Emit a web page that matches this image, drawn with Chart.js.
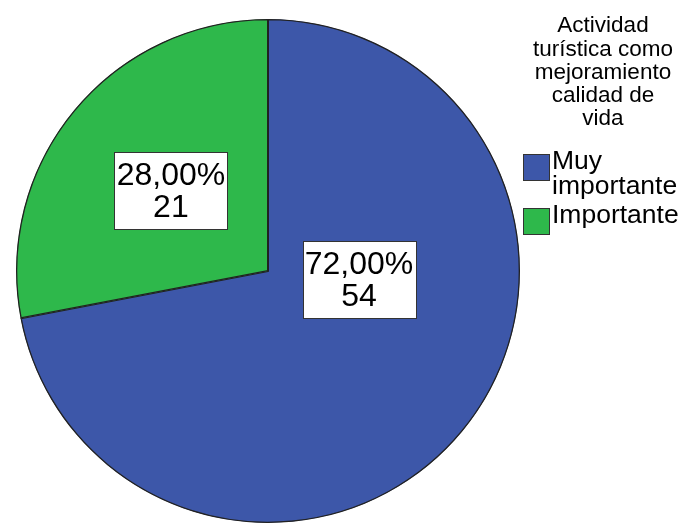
<!DOCTYPE html>
<html>
<head>
<meta charset="utf-8">
<script src="https://cdn.jsdelivr.net/npm/chart.js@4"></script>
<style>
html,body{margin:0;padding:0;background:#fff;}
#wrap{position:relative;width:680px;height:524px;}
</style>
</head>
<body>
<div id="wrap"><canvas id="c" width="680" height="524"></canvas></div>
<script>
const categories = ["Muy\nimportante", "Importante"];
const counts = [54, 21];
const percents = ["72,00%", "28,00%"];
const legendTitle = ["Actividad", "turística como", "mejoramiento", "calidad de", "vida"];
const colors = ["#3d57a9", "#2eb84b"];

const FONT = '"Liberation Sans", Arial, sans-serif';

const labelPlugin = {
  id: 'spssLabels',
  afterDatasetsDraw(chart) {
    const ctx = chart.ctx;
    const meta = chart.getDatasetMeta(0);
    // placement per slice: [angle from top clockwise (deg) or null for mid, radius fraction]
    const place = [[95.6, 0.363], [null, 0.5]];
    meta.data.forEach((arc, i) => {
      const p = arc.getProps(['x','y','startAngle','endAngle','outerRadius'], true);
      let ang;
      if (place[i][0] === null) ang = (p.startAngle + p.endAngle) / 2;
      else ang = place[i][0] * Math.PI / 180 - Math.PI / 2;
      const r = p.outerRadius * place[i][1];
      const cx = p.x + Math.cos(ang) * r;
      const cy = p.y + Math.sin(ang) * r;
      const w = 113, h = 77;
      ctx.save();
      ctx.fillStyle = '#fff';
      ctx.strokeStyle = '#333';
      ctx.lineWidth = 1;
      const bx = Math.round(cx - w / 2) + 0.5, by = Math.round(cy - h / 2) + 0.5;
      ctx.fillRect(bx, by, w, h);
      ctx.strokeRect(bx, by, w, h);
      ctx.fillStyle = '#000';
      ctx.font = '32px ' + FONT;
      ctx.textAlign = 'center';
      ctx.textBaseline = 'middle';
      ctx.fillText(percents[i], cx, cy - 15);
      ctx.fillText(String(counts[i]), cx, cy + 17);
      ctx.restore();
    });
  }
};

const legendPlugin = {
  id: 'spssLegend',
  afterDraw(chart) {
    const ctx = chart.ctx;
    ctx.save();
    ctx.fillStyle = '#000';
    ctx.font = '22.5px ' + FONT;
    ctx.textAlign = 'center';
    ctx.textBaseline = 'middle';
    legendTitle.forEach((t, i) => ctx.fillText(t, 603, 26 + i * 23.3));
    ctx.font = '26.5px ' + FONT;
    ctx.textAlign = 'left';
    ctx.textBaseline = 'alphabetic';
    let y = 169;
    categories.forEach((c, i) => {
      const lines = c.split('\n');
      const boxTop = y - 15;
      ctx.fillStyle = colors[i];
      ctx.fillRect(523.5, boxTop + 0.5, 26, 26);
      ctx.strokeStyle = '#333';
      ctx.lineWidth = 1;
      ctx.strokeRect(523.5, boxTop + 0.5, 26, 26);
      ctx.fillStyle = '#000';
      lines.forEach((l, j) => {
        ctx.fillText(l, 552, y + j * 25);
      });
      y += lines.length * 25 + 4;
    });
    ctx.restore();
  }
};

new Chart(document.getElementById('c'), {
  type: 'pie',
  data: {
    labels: categories,
    datasets: [{
      data: counts,
      backgroundColor: colors,
      borderColor: '#222',
      borderWidth: 1,
      borderAlign: 'inner'
    }]
  },
  options: {
    responsive: false,
    animation: false,
    events: [],
    layout: { padding: { left: 16, right: 160, top: 19, bottom: 1 } },
    plugins: { legend: { display: false }, tooltip: { enabled: false } }
  },
  plugins: [labelPlugin, legendPlugin]
});
</script>
</body>
</html>
